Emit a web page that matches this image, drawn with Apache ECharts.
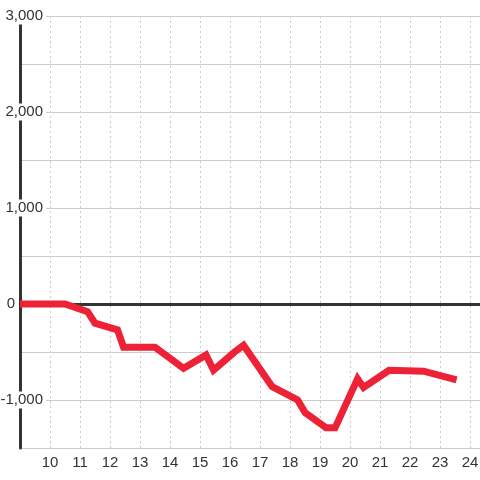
<!DOCTYPE html>
<html>
<head>
<meta charset="utf-8">
<style>html,body{margin:0;padding:0;background:#fff;}#c{width:480px;height:480px;}</style>
<script src="https://cdn.jsdelivr.net/npm/echarts@6/dist/echarts.min.js"></script>
</head>
<body>
<div id="c"></div>
<script>
const times  = [9, 10.5, 11.25, 11.5, 12.25, 12.45, 13.5, 14.45, 15.2, 15.45, 16.15, 16.45, 17.4, 18.25, 18.5, 19.2, 19.5, 20.25, 20.45, 21.3, 22.45, 23.55];
const values = [0, 0, -80, -200, -270, -450, -450, -670, -530, -690, -500, -430, -860, -1000, -1130, -1290, -1290, -780, -870, -690, -700, -790];
const xMin = 9, xMax = 24.33, yMin = -1500, yMax = 3000;

const chart = echarts.init(document.getElementById('c'), null, {renderer: 'canvas'});
const fontFam = '"Liberation Sans", Arial, sans-serif';
chart.setOption({
  backgroundColor: '#fff',
  animation: false,
  grid: {left: 20, right: 0, top: 16, bottom: 32, containLabel: false, outerBoundsMode: 'none'},
  xAxis: {
    type: 'value', min: xMin, max: xMax, interval: 1, position: 'bottom',
    axisLine: {show: false, onZero: false},
    axisTick: {show: false},
    minorTick: {show: false},
    minorSplitLine: {show: false},
    axisLabel: {
      margin: 7, fontSize: 15, color: '#333', fontFamily: fontFam,
      formatter: v => (Number.isInteger(v) && v > xMin) ? String(v) : ''
    },
    splitLine: {show: true, lineStyle: {color: '#ccc', width: 1, type: [2, 3]}}
  },
  yAxis: {
    type: 'value', min: yMin, max: yMax, interval: 500,
    axisLine: {show: true, onZero: false, lineStyle: {color: '#333', width: 3}},
    axisTick: {show: false},
    splitLine: {show: true, lineStyle: {color: '#ccc', width: 1}},
    axisLabel: {
      margin: -26, align: 'right', fontSize: 15, color: '#333', fontFamily: fontFam,
      formatter: v => {
        if (v % 1000 !== 0) return '';
        if (v === 0) return '{z|0}';
        return '{a|' + v.toLocaleString('en-US') + '}';
      },
      rich: {
        a: {fontSize: 15, color: '#333', fontFamily: fontFam, backgroundColor: '#fff', padding: [1, 3, 1, 1]},
        z: {fontSize: 15, color: '#333', fontFamily: fontFam, padding: [0, 31, 0, 0]}
      }
    }
  },
  series: [{
    type: 'line', z: 3, data: [], silent: true,
    markLine: {
      silent: true, symbol: 'none', label: {show: false}, animation: false,
      lineStyle: {color: '#333', width: 3, type: 'solid'},
      data: [{yAxis: 0}]
    }
  }, {
    type: 'line', z: 5,
    data: times.map((t, i) => [t, values[i]]),
    showSymbol: false, symbol: 'none',
    lineStyle: {color: '#ee2236', width: 7, join: 'miter'},
    itemStyle: {color: '#ee2236'}
  }]
});
</script>
</body>
</html>
